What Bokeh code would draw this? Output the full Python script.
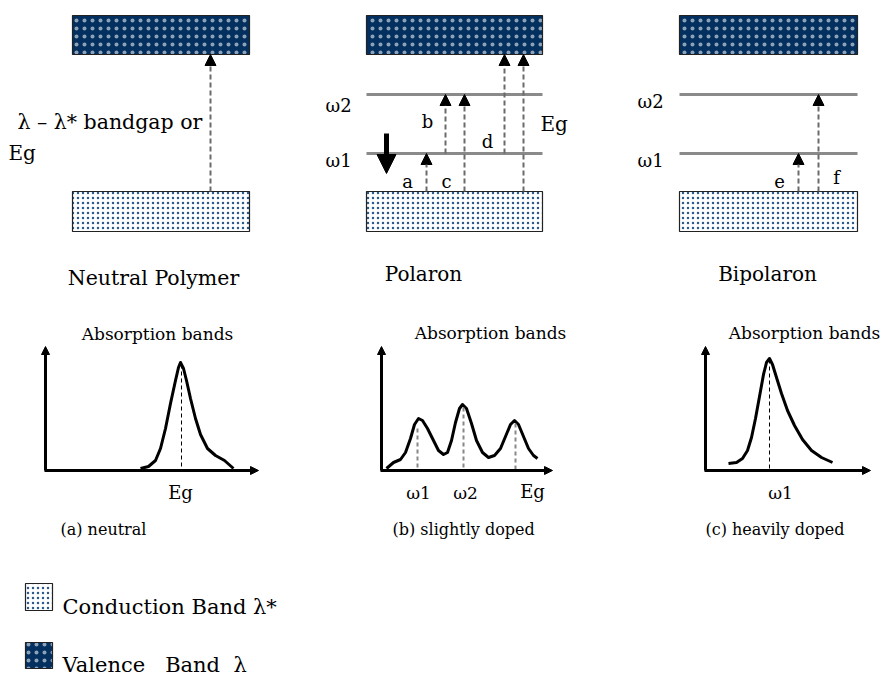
from bokeh.plotting import figure
from bokeh.models import Range1d, Arrow, NormalHead
from bokeh.core.properties import value
from bokeh.embed import file_html
from bokeh.resources import INLINE

# ---------------- data (page pixel frame) ----------------
panel_names = ["Neutral Polymer", "Polaron", "Bipolaron"]
band_left = [72, 366, 679]
band_right = [249, 542, 857]
valence_top, valence_bottom = 15, 54          # dark band
conduction_top, conduction_bottom = 191, 231  # dotted band
omega2_level = 94
omega1_level = 153
level_panels = [1, 2]                          # panels that have w1/w2 levels

# transitions: x, y_from, y_to
trans_x = [210, 426, 445, 464, 504, 523, 798, 818]
trans_from = [191, 191, 153, 191, 153, 191, 191, 191]
trans_to = [54, 153, 94, 94, 54, 54, 153, 94]

# absorption curves
curve_a_x = [140, 148, 155, 160, 165, 170, 175, 178, 180, 183, 186, 190, 195, 200, 207, 215, 224, 233]
curve_a_y = [468, 466, 460, 448, 428, 403, 380, 367, 362, 368, 380, 398, 418, 434, 448, 455, 460, 468]
curve_b_x = [386, 393, 400, 405, 410, 414, 418, 422, 427, 433, 438, 443, 447, 451, 455, 459, 462,
             466, 471, 476, 482, 488, 494, 500, 505, 510, 514, 518, 523, 528, 533, 537]
curve_b_y = [468, 462, 459, 452, 438, 424, 418, 420, 428, 440, 450, 454, 452, 440, 422, 408, 404,
             408, 423, 440, 452, 457, 455, 448, 436, 424, 420, 424, 436, 448, 455, 458]
curve_c_x = [728, 736, 742, 747, 751, 755, 759, 763, 766, 769, 772, 776, 781, 787, 794, 802, 811, 821, 832]
curve_c_y = [463, 462, 458, 450, 437, 418, 396, 374, 362, 358, 364, 377, 393, 410, 425, 439, 450, 457, 462]
peak_a = [(181, 364)]
peaks_b = [(417, 428), (463, 407), (515, 423)]
peak_c = [(769, 359)]
axes_origin_x = [45, 381, 705]
axes_end_x = [258, 552, 870]
axis_top_y = 348
axis_base_y = 470

DARK = "#03305f"
DOT = "#2b5a8e"
SERIF = value("DejaVu Serif")
NB = "\u00a0"

p = figure(width=882, height=675, x_range=Range1d(0, 882), y_range=Range1d(675, 0),
           output_backend="svg", toolbar_location=None, min_border=0)
p.axis.visible = False
p.grid.visible = False
p.outline_line_color = None
p.background_fill_color = "white"

# bands
n = len(band_left)
p.quad(left=band_left, right=band_right, top=[valence_top] * n, bottom=[valence_bottom] * n,
       fill_color=DARK, line_color="#222222", line_width=1.2,
       hatch_pattern="dot", hatch_color="white", hatch_scale=8, hatch_weight=0.2, hatch_alpha=0.55)
p.quad(left=band_left, right=band_right, top=[conduction_top] * n, bottom=[conduction_bottom] * n,
       fill_color="white", line_color="#222222", line_width=1.2,
       hatch_pattern="dot", hatch_color=DOT, hatch_scale=5, hatch_weight=0.7)

# levels
for i in level_panels:
    p.segment(x0=[band_left[i]] * 2, x1=[band_right[i]] * 2,
              y0=[omega2_level, omega1_level], y1=[omega2_level, omega1_level],
              line_color="#8a8a8a", line_width=3)

# transitions
for x, y0, y1 in zip(trans_x, trans_from, trans_to):
    p.add_layout(Arrow(x_start=x, y_start=y0, x_end=x, y_end=y1,
                       line_color="#6a6a6a", line_width=2, line_dash="5 3",
                       end=NormalHead(size=11, fill_color="black", line_color="black", line_width=1)))

# thick down arrow
p.add_layout(Arrow(x_start=386, y_start=133, x_end=386, y_end=173, line_color="black", line_width=5,
                   end=NormalHead(size=19, fill_color="black", line_color="black", line_width=1)))

# absorption axes
for ox, ex in zip(axes_origin_x, axes_end_x):
    p.add_layout(Arrow(x_start=ox, y_start=axis_base_y, x_end=ox, y_end=axis_top_y - 2,
                       line_color="black", line_width=3,
                       end=NormalHead(size=8, fill_color="black", line_color="black", line_width=1)))
    p.add_layout(Arrow(x_start=ox - 1, y_start=axis_base_y, x_end=ex, y_end=axis_base_y,
                       line_color="black", line_width=3,
                       end=NormalHead(size=8, fill_color="black", line_color="black", line_width=1)))

# curves
for cx, cy in [(curve_a_x, curve_a_y), (curve_b_x, curve_b_y), (curve_c_x, curve_c_y)]:
    p.line(cx, cy, line_color="black", line_width=3, line_join="round")

for (x, y) in peak_a + peak_c:
    p.segment(x0=[x], x1=[x], y0=[y], y1=[axis_base_y - 1], line_color="black",
              line_width=1, line_dash="4 3")
for (x, y) in peaks_b:
    p.segment(x0=[x], x1=[x], y0=[y], y1=[axis_base_y - 1], line_color="#888888",
              line_width=2, line_dash="4 3")

# texts
def txt(x, y, s, size="18px", align="left"):
    p.text(x=[x], y=[y], text=[s], text_font=SERIF, text_font_size=size,
           text_align=align, text_baseline="middle", text_color="black")

txt(17, 121, "λ – λ* bandgap or", "20.5px")
txt(8, 152, "Eg", "20px")
txt(153, 277, "Neutral Polymer", "20.5px", "center")
txt(423, 273, "Polaron", "20px", "center")
txt(767, 273, "Bipolaron", "20px", "center")

txt(325, 105, "ω2", "18px")
txt(325, 160, "ω1", "18px")
txt(427, 121, "b", "18px", "center")
txt(407, 181, "a", "18px", "center")
txt(446, 181, "c", "18px", "center")
txt(487, 141, "d", "18px", "center")
txt(540, 123, "Eg", "20px")

txt(637, 101, "ω2", "18px")
txt(637, 160, "ω1", "18px")
txt(779, 180, "e", "18px", "center")
txt(836, 177, "f", "18px", "center")

txt(157, 333, "Absorption bands", "17px", "center")
txt(490, 332, "Absorption bands", "17px", "center")
txt(804, 332, "Absorption bands", "17px", "center")

txt(180, 492, "Eg", "18px", "center")
txt(418, 492, "ω1", "17px", "center")
txt(465, 492, "ω2", "17px", "center")
txt(532, 491, "Eg", "18px", "center")
txt(780, 492, "ω1", "17px", "center")

txt(60, 529, "(a) neutral", "16px")
txt(392, 529, "(b) slightly doped", "16px")
txt(705, 529, "(c) heavily doped", "16px")

# legend
p.quad(left=[25], right=[52], top=[583], bottom=[610], fill_color="white", line_color="#222222",
       line_width=1.2, hatch_pattern="dot", hatch_color=DOT, hatch_scale=5, hatch_weight=0.7)
p.quad(left=[25], right=[52], top=[642], bottom=[668], fill_color=DARK, line_color="#222222",
       line_width=1.2, hatch_pattern="dot", hatch_color="white", hatch_scale=8, hatch_weight=0.2,
       hatch_alpha=0.55)
txt(62, 606, "Conduction Band λ*", "21px")
txt(62, 664, "Valence" + NB * 3 + "Band" + NB * 2 + "λ", "21px")

open("out.html", "w").write(file_html(p, INLINE))
